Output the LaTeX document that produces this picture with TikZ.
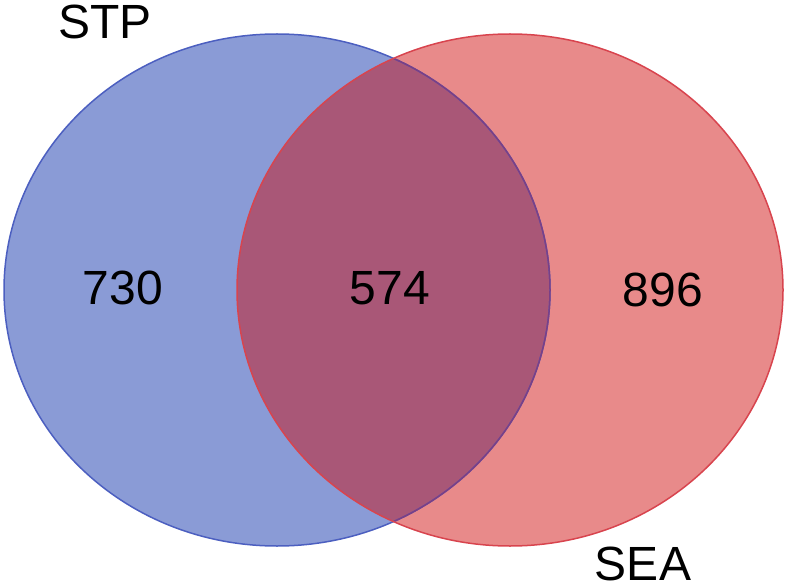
\documentclass[tikz,border=0pt]{standalone}
\usepackage{fontspec}
\setmainfont{Liberation Sans}
\definecolor{bfill}{HTML}{8A9BD6}
\definecolor{bline}{HTML}{4C5FC0}
\definecolor{rfill}{HTML}{E88A8A}
\definecolor{rline}{HTML}{D8444E}
\definecolor{ifill}{HTML}{A95777}
\definecolor{iline}{HTML}{7A3F86}
\begin{document}
\begin{tikzpicture}[x=1pt,y=-1pt,
  lbl/.style={font=\fontsize{48}{48}\selectfont, inner sep=0pt, text=black, anchor=base, text depth=0pt}]
\useasboundingbox (0,0) rectangle (787,588);
\coordinate (bc) at (277,290);
\coordinate (rc) at (510,290);
\fill[bfill] (bc) ellipse [x radius=273, y radius=256];
\fill[rfill] (rc) ellipse [x radius=273, y radius=256];
\begin{scope}
  \clip (bc) ellipse [x radius=273, y radius=256];
  \fill[ifill] (rc) ellipse [x radius=273, y radius=256];
\end{scope}
\draw[bline, line width=1.5] (bc) ellipse [x radius=273, y radius=256];
\begin{scope}
  \clip (rc) ellipse [x radius=273, y radius=256];
  \draw[iline, line width=1.5] (bc) ellipse [x radius=273, y radius=256];
\end{scope}
\draw[rline, line width=1.5] (rc) ellipse [x radius=273, y radius=256];
\node[lbl] (stp) at (105,39) {STP};
\node[lbl] (sea) at (643,580) {SEA};
\node[lbl] (a) at (123,304) {730};
\node[lbl] (b) at (390,304) {574};
\node[lbl] (c) at (663,306) {896};
\end{tikzpicture}
\end{document}
